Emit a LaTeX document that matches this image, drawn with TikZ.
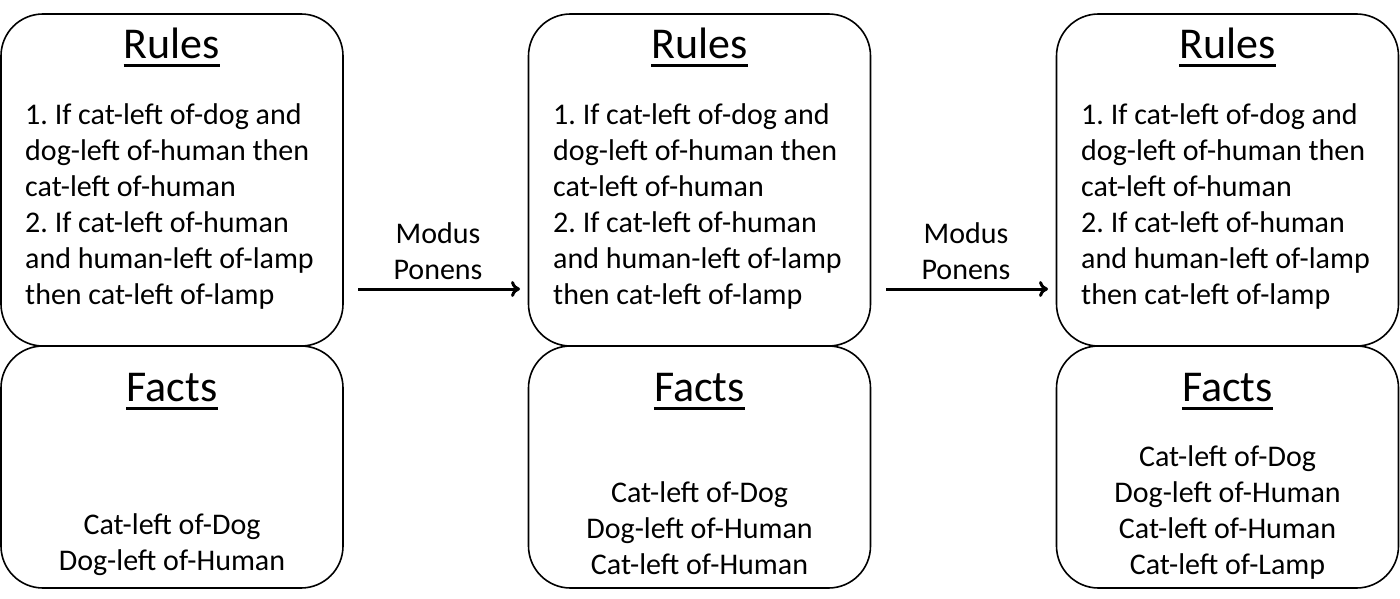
\documentclass[tikz,border=0pt]{standalone}
\usepackage{fontspec}
\setmainfont{Carlito}
\frenchspacing
\usetikzlibrary{arrows.meta}
\begin{document}
\begin{tikzpicture}[x=1pt,y=-1pt,
  box/.style={draw=black,line width=1.6pt,rounded corners=42pt,minimum width=342pt,inner sep=0pt},
  head/.style={font=\fontsize{44}{52}\selectfont,inner sep=0pt,anchor=base},
  body/.style={font=\fontsize{30}{36}\selectfont,inner sep=0pt,align=left,anchor=base west},
  factstxt/.style={font=\fontsize{30}{36}\selectfont,inner sep=0pt,align=center,anchor=base},
  lbl/.style={font=\fontsize{30}{36}\selectfont,inner sep=0pt,align=center,anchor=base},
  ul/.style={line width=2.5pt},
  arr/.style={line width=3pt,-{To[length=9pt,width=16pt,line width=3pt]}}]
\useasboundingbox (0,0) rectangle (1400,599);
% boxes
\foreach \n/\cx in {1/172,2/699.5,3/1227.5}{
  \node[box,minimum height=332pt] (r\n) at (\cx,180) {};
  \node[box,minimum height=242pt] (f\n) at (\cx,467) {};
  \node[head] (rh\n) at (\cx,59) {Rules};
  \node[head] (fh\n) at (\cx,401) {Facts};
  \draw[ul] ([yshift=-6.5pt]rh\n.base west) -- ([yshift=-6.5pt]rh\n.base east);
  \draw[ul] ([yshift=-7.5pt]fh\n.base west) -- ([yshift=-7.5pt]fh\n.base east);
}
\node[body] (rt1) at (25,304) {1. If cat-left of-dog and\\dog-left of-human then\\cat-left of-human\\2. If cat-left of-human\\and human-left of-lamp\\then cat-left of-lamp};
\node[body] (rt2) at (553,304) {1. If cat-left of-dog and\\dog-left of-human then\\cat-left of-human\\2. If cat-left of-human\\and human-left of-lamp\\then cat-left of-lamp};
\node[body] (rt3) at (1081,304) {1. If cat-left of-dog and\\dog-left of-human then\\cat-left of-human\\2. If cat-left of-human\\and human-left of-lamp\\then cat-left of-lamp};
\node[factstxt] (ft1) at (172,570) {Cat-left of-Dog\\Dog-left of-Human};
\node[factstxt] (ft2) at (699.5,574.5) {Cat-left of-Dog\\Dog-left of-Human\\Cat-left of-Human};
\node[factstxt] (ft3) at (1227.5,574) {Cat-left of-Dog\\Dog-left of-Human\\Cat-left of-Human\\Cat-left of-Lamp};
% arrows
\coordinate (a1s) at (358,289); \coordinate (a1e) at (520,289);
\coordinate (a2s) at (886,289); \coordinate (a2e) at (1048,289);
\draw[arr] (a1s) -- (a1e);
\draw[arr] (a2s) -- (a2e);
\node[lbl] (m1) at (438,279) {Modus\\Ponens};
\node[lbl] (m2) at (966,279) {Modus\\Ponens};
\end{tikzpicture}
\end{document}
